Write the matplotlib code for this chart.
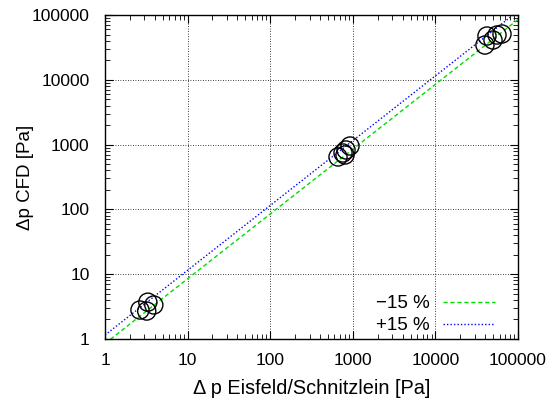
import numpy as np
import matplotlib
matplotlib.use("Agg")
import matplotlib.pyplot as plt

# data
x_vals = [2.65, 3.2, 3.3, 3.9,
          662, 761, 805, 828, 925,
          39800, 42100, 49800, 55700, 64000]
y_vals = [2.8, 2.7, 3.7, 3.35,
          644, 742, 691, 826, 951,
          34400, 47400, 41100, 49100, 50900]
line_x = [1, 100000]
lower_factor = 0.85
upper_factor = 1.15
labels = ["\u221215 %", "+15 %"]
xlabel = "\u0394 p Eisfeld/Schnitzlein [Pa]"
ylabel = "\u0394p CFD [Pa]"

plt.rcParams['font.family'] = ['Liberation Sans', 'DejaVu Sans']
fig = plt.figure(figsize=(5.58, 4.04), dpi=100)
ax = fig.add_axes([105/558, 1-339/404, 413/558, 324/404])

ax.scatter(x_vals, y_vals, s=170, facecolors='none', edgecolors='black', linewidths=1.0, zorder=3)
lx = np.array(line_x, dtype=float)
ax.plot(lx, lx*lower_factor, color='#00dd00', linestyle=(0, (3, 2)), linewidth=1.0, label=labels[0])
ax.plot(lx, lx*upper_factor, color='#0000ff', linestyle=(0, (1, 1.5)), linewidth=1.0, label=labels[1])

ax.set_xscale('log')
ax.set_yscale('log')
ax.set_xlim(1, 100000)
ax.set_ylim(1, 100000)
ticks = [1, 10, 100, 1000, 10000, 100000]
ax.set_xticks(ticks)
ax.set_yticks(ticks)
ax.set_xticklabels([str(t) for t in ticks])
ax.set_yticklabels([str(t) for t in ticks])
ax.grid(True, which='major', color='black', linestyle=(0, (1, 2)), linewidth=0.6)
ax.tick_params(which='both', direction='in', top=True, right=True, labelsize=12.5)
ax.tick_params(which='major', length=6, width=0.8)
ax.tick_params(axis='x', which='major', pad=10)
ax.tick_params(axis='y', which='major', pad=11)
ax.tick_params(which='minor', length=3.5, width=0.6)
for s in ax.spines.values():
    s.set_linewidth(1.0)

ax.set_xlabel(xlabel, fontsize=14.3, labelpad=8)
ax.set_ylabel(ylabel, fontsize=13.5)
ax.yaxis.set_label_coords(-0.172, 0.5)

leg = ax.legend(loc='lower right', bbox_to_anchor=(0.944, 0.015), frameon=False,
                markerfirst=False, fontsize=13.5, handlelength=2.77, handletextpad=0.7,
                borderaxespad=0, borderpad=0, labelspacing=0.25)

fig.savefig("out.png", dpi=100)
